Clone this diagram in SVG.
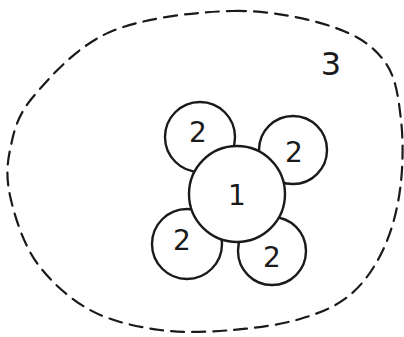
<svg xmlns="http://www.w3.org/2000/svg" width="404" height="337" viewBox="0 0 404 337">
<style>
.bg{fill:#ffffff}
.c{fill:#ffffff;stroke:#1a1a1a;stroke-width:2.4}
.b{fill:none;stroke:#1a1a1a;stroke-width:2.2;stroke-dasharray:13 8;stroke-linecap:round}
.t{font-family:"DejaVu Sans","Liberation Sans",sans-serif;font-weight:normal;fill:#1a1a1a;text-anchor:middle;dominant-baseline:central}
</style>
<rect class="bg" x="0" y="0" width="404" height="337"/>
<g id="n3">
<path class="b" d="M233,11 C270.2,10.2 307.7,18.5 333,27 C358.3,35.5 373.7,46.5 385,62 C396.3,77.5 398.5,98.7 401,120 C403.5,141.3 403,168.3 400,190 C397,211.7 391.3,232.5 383,250 C374.7,267.5 363.8,283.5 350,295 C336.2,306.5 319.5,313.2 300,319 C280.5,324.8 256.3,327.8 233,330 C209.7,331.8 183.8,333.3 160,330 C136.2,326.7 110.5,321.2 90,310 C69.5,298.8 50.2,281.3 37,263 C23.8,244.7 15.5,218.8 11,200 C6.5,181.2 6.3,167.2 10,150 C13.7,132.8 16.3,116.7 33,97 C49.7,77.3 76.7,46.3 110,32 C143.3,17.7 195.8,11.8 233,11 Z"/>
<text class="t" x="331" y="64" font-size="32">3</text>
</g>
<g id="connectors"></g>
<g id="n2a">
<circle class="c" cx="200" cy="137" r="35"/>
<text class="t" x="198" y="132" font-size="28">2</text>
</g>
<g id="n2b">
<circle class="c" cx="293" cy="150" r="34"/>
<text class="t" x="294" y="152" font-size="28">2</text>
</g>
<g id="n2c">
<circle class="c" cx="187" cy="244" r="35"/>
<text class="t" x="182" y="240" font-size="28">2</text>
</g>
<g id="n2d">
<circle class="c" cx="272" cy="251" r="34"/>
<text class="t" x="272" y="257" font-size="28">2</text>
</g>
<g id="n1">
<circle class="c" cx="237" cy="194" r="48"/>
<text class="t" x="237" y="195" font-size="28">1</text>
</g>
</svg>
